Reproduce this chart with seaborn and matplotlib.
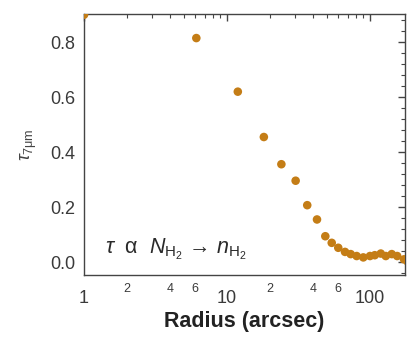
"""Optical depth at 7 um versus radius, log-scaled radius axis."""

import matplotlib
matplotlib.use("Agg")
import matplotlib.pyplot as plt
import matplotlib.ticker as mticker
import numpy as np
import pandas as pd
import seaborn as sns

radius = [1.0, 6.1, 11.9, 18.1, 24.0, 30.2, 36.4, 42.6, 48.7, 54.0, 60.0, 66.9,
          73.3, 80.7, 89.8, 100.0, 108.0, 119.0, 129.0, 142.0, 155.0, 173.0, 184.0]
tau = [0.90, 0.815, 0.62, 0.455, 0.356, 0.296, 0.207, 0.155, 0.094, 0.070, 0.052,
       0.037, 0.029, 0.022, 0.017, 0.022, 0.025, 0.031, 0.022, 0.029, 0.022, 0.010, 0.001]

major_x = [1, 10, 100]
minor_label_x = [2, 4, 6, 20, 40, 60]
y_ticks = [0.0, 0.2, 0.4, 0.6, 0.8]

df = pd.DataFrame({"radius": radius, "tau": tau})

sns.set_style("white")
plt.rcParams["font.family"] = ["Liberation Sans", "DejaVu Sans"]
plt.rcParams["mathtext.fontset"] = "custom"
plt.rcParams["mathtext.rm"] = "Liberation Sans"
plt.rcParams["mathtext.it"] = "Liberation Sans:italic"

fig = plt.figure(figsize=(4.10, 3.37), dpi=100)
ax = fig.add_axes([0.205, 0.184, 0.783, 0.774])

sns.scatterplot(data=df, x="radius", y="tau", ax=ax, color="#c47d16",
                s=38, edgecolor="none", clip_on=True, zorder=3)

ax.set_xscale("log")
ax.set_xlim(1, 176)
ax.set_ylim(-0.047, 0.902)

for s in ax.spines.values():
    s.set_color("#444444")
    s.set_linewidth(1.0)

# y ticks: major every 0.2, minor every 0.04, all inward on both sides
ax.yaxis.set_major_locator(mticker.FixedLocator(y_ticks))
ax.yaxis.set_minor_locator(mticker.MultipleLocator(0.04))
ax.yaxis.set_major_formatter(mticker.FormatStrFormatter("%.1f"))

# x ticks: decades labelled large, 2/4/6 labelled small
ax.xaxis.set_major_locator(mticker.FixedLocator(major_x))
ax.xaxis.set_major_formatter(mticker.FixedFormatter([str(v) for v in major_x]))
ax.xaxis.set_minor_locator(mticker.LogLocator(base=10, subs=np.arange(2, 10), numticks=10))

def minor_fmt(v, pos):
    for m in minor_label_x:
        if abs(v - m) / m < 1e-6:
            return str(m)[0]
    return ""

ax.xaxis.set_minor_formatter(mticker.FuncFormatter(minor_fmt))

ax.tick_params(which="both", direction="in", top=True, right=True,
               color="#444444", labelcolor="#3a3a3a")
ax.tick_params(axis="x", which="major", length=5, width=1, labelsize=13, pad=11)
ax.tick_params(axis="x", which="minor", length=3, width=0.8, labelsize=9, pad=6)
ax.tick_params(axis="y", which="major", length=5, width=1, labelsize=13, pad=6)
ax.tick_params(axis="y", which="minor", length=3, width=0.8)

ax.set_xlabel("Radius (arcsec)", fontsize=15.5, fontweight="bold", color="#222222", labelpad=3)
ax.set_ylabel(r"$\tau_{7\mathrm{\mu m}}$", fontsize=13, color="#444444", labelpad=8)

ax.text(0.065, 0.05, r"$\tau$  α  $N_{\mathrm{H_2}}$ → $n_{\mathrm{H_2}}$",
        transform=ax.transAxes, fontsize=15.5, color="#2a2a2a", ha="left", va="bottom")

fig.savefig("out.png", dpi=100)
